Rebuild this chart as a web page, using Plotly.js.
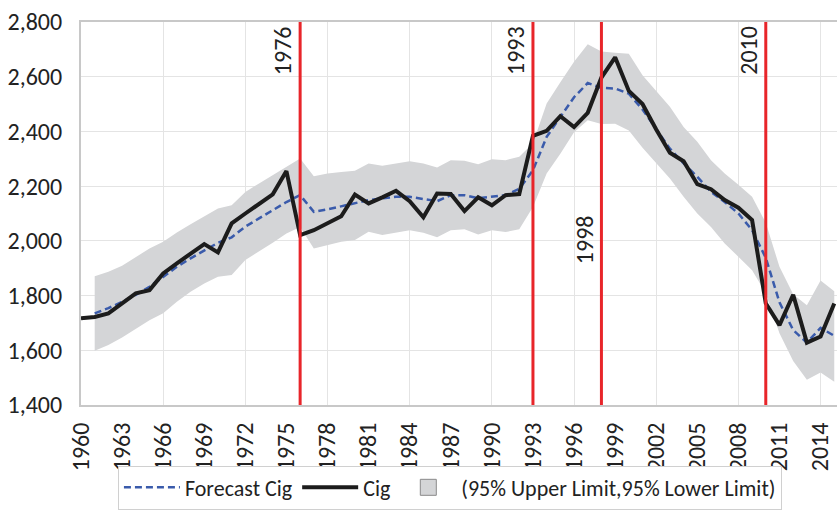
<!DOCTYPE html>
<html>
<head>
<meta charset="utf-8">
<script src="https://cdn.plot.ly/plotly-3.0.1.min.js"></script>
<style>html,body{margin:0;padding:0;background:#fff;}#chart{width:837px;height:511px;}</style>
</head>
<body>
<div id="chart"></div>
<script>
// ---- data ----
const years = [];
for (let y = 1960; y <= 2015; y++) years.push(y);

const cig = [1717,1722,1735,1772,1808,1820,1881,1918,1954,1988,1958,2064,2100,2134,2170,2255,
  2021,2039,2066,2090,2169,2137,2159,2183,2145,2086,2173,2171,2109,2159,2130,2167,2171,
  2384,2402,2456,2416,2468,2597,2671,2548,2500,2407,2322,2291,2207,2189,2149,2121,2076,
  1772,1692,1803,1628,1650,1771];

const fcYears = years.slice(1);
const forecast = [1735,1754,1777,1802,1832,1869,1905,1936,1966,1993,2013,2052,2082,2112,2142,
  2167,2106,2115,2127,2137,2149,2155,2161,2161,2152,2145,2167,2167,2156,2161,2167,2190,
  2258,2380,2453,2525,2577,2559,2557,2538,2480,2410,2337,2283,2234,2179,2142,2100,2039,
  1938,1775,1674,1628,1682,1653];

const upper = [1871,1887,1909,1942,1972,1997,2031,2061,2090,2118,2130,2179,2210,2240,2270,
  2301,2236,2246,2252,2256,2283,2275,2283,2291,2283,2268,2295,2293,2280,2298,2295,2307,
  2357,2502,2580,2655,2719,2692,2688,2684,2605,2548,2490,2416,2362,2295,2246,2205,2161,
  2066,1905,1805,1765,1855,1816];

const lower = [1598,1619,1647,1680,1710,1735,1777,1814,1844,1869,1875,1930,1960,1993,2027,
  2051,1972,1984,1997,2003,2033,2021,2030,2039,2030,2013,2039,2042,2023,2039,2032,2042,
  2124,2246,2318,2397,2441,2427,2428,2403,2340,2283,2228,2161,2100,2051,1990,1942,1893,
  1808,1662,1561,1492,1519,1485];

const breakYears = [1976, 1993, 1998, 2010];
const breakLabelLow = [false, false, true, false];
const xTickVals = [];
for (let y = 1960; y <= 2014; y += 3) xTickVals.push(y);
const yTickVals = [1400,1600,1800,2000,2200,2400,2600,2800];

// ---- chart ----
const FONT = 'Carlito, Calibri, Lato, "Liberation Sans", sans-serif';
const BAND = '#d4d5d7';
const traces = [
  {x: fcYears, y: lower, type: 'scatter', mode: 'lines', line: {width: 0, color: BAND},
   showlegend: false, hoverinfo: 'skip'},
  {x: fcYears, y: upper, type: 'scatter', mode: 'lines', fill: 'tonexty', fillcolor: BAND,
   line: {width: 0, color: BAND}, showlegend: false, hoverinfo: 'skip'},
  {x: fcYears, y: forecast, type: 'scatter', mode: 'lines', name: 'Forecast Cig',
   line: {color: '#3a5bab', width: 2.5, dash: '7px,4px'}, legendrank: 1},
  {x: years, y: cig, type: 'scatter', mode: 'lines', name: 'Cig',
   line: {color: '#1c1c1c', width: 4}, legendrank: 2},
  // legend key for the confidence band (no visible data of its own)
  {x: [null], y: [null], type: 'scatter', mode: 'markers', name: '(95% Upper Limit,95% Lower Limit)',
   marker: {symbol: 'square', size: 16, color: BAND, line: {color: '#8a8a8a', width: 1}},
   legendrank: 3},
  // invisible trace to carry the 6-year gridline axis
  {x: [1960, 2015], y: [1400, 1400], xaxis: 'x2', type: 'scatter', mode: 'lines',
   line: {width: 0}, showlegend: false, hoverinfo: 'skip'}
];

const shapes = breakYears.map(yr => ({
  type: 'line', xref: 'x', yref: 'paper', x0: yr, x1: yr, y0: 0, y1: 1,
  line: {color: '#e8252a', width: 3}, layer: 'above'
}));

const annotations = breakYears.map((yr, i) => ({
  x: yr, xref: 'x', xanchor: 'right', xshift: -1,
  y: breakLabelLow[i] ? 2006 : 1, yref: breakLabelLow[i] ? 'y' : 'paper',
  yanchor: breakLabelLow[i] ? 'middle' : 'top', yshift: breakLabelLow[i] ? 0 : -2,
  text: String(yr), textangle: -90, showarrow: false,
  font: {family: FONT, size: 24, color: '#222'}
}));

const xRange = [1960, 2015.2];
const layout = {
  width: 837, height: 511,
  margin: {l: 81, r: 0, t: 22, b: 106, pad: 0, autoexpand: false},
  paper_bgcolor: '#fff', plot_bgcolor: '#fff',
  font: {family: FONT, size: 22, color: '#222'},
  showlegend: true,
  legend: {orientation: 'h', x: 0.488, xanchor: 'center', y: -0.158, yanchor: 'top',
           bordercolor: '#d0d0d0', borderwidth: 1, font: {family: FONT, size: 22, color: '#222'},
           traceorder: 'normal', itemwidth: 56},
  xaxis: {range: xRange, tickmode: 'array', tickvals: xTickVals, ticktext: xTickVals.map(String),
          tickangle: -90, showgrid: false, zeroline: false, showline: true, mirror: true,
          linecolor: '#c8c8c8', linewidth: 2, ticks: '', ticklabelstandoff: 6,
          tickfont: {family: FONT, size: 24, color: '#222'}},
  xaxis2: {range: xRange, overlaying: 'x', tick0: 1960, dtick: 6, showgrid: true,
           gridcolor: '#e4e4e4', gridwidth: 1, showticklabels: false, ticks: '',
           zeroline: false, showline: false, layer: 'below traces'},
  yaxis: {range: [1400, 2800], tickmode: 'array', tickvals: yTickVals,
          ticktext: yTickVals.map(v => v.toLocaleString('en-US')),
          showgrid: true, gridcolor: '#e4e4e4', gridwidth: 1, zeroline: false,
          showline: true, linecolor: '#c8c8c8', linewidth: 2, ticks: '', ticklabelstandoff: 12,
          tickfont: {family: FONT, size: 24, color: '#222'}},
  shapes: shapes,
  annotations: annotations
};

Plotly.newPlot('chart', traces, layout, {staticPlot: true, displayModeBar: false});
</script>
</body>
</html>
